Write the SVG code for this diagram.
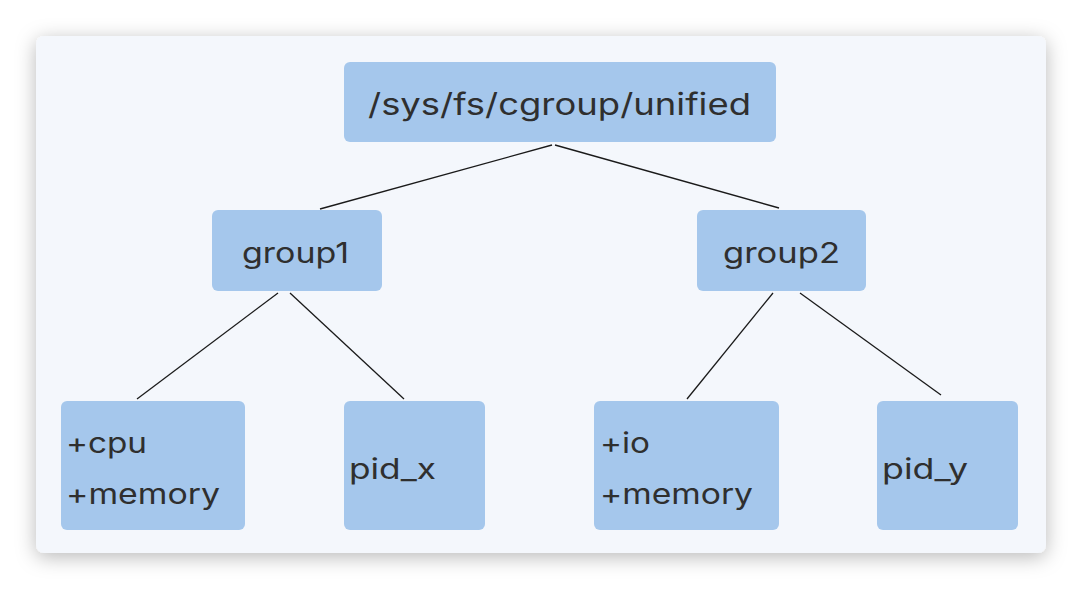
<svg xmlns="http://www.w3.org/2000/svg" width="1082" height="590" viewBox="0 0 1082 590">
<defs>
<filter id="sh" x="-10%" y="-10%" width="120%" height="125%">
<feDropShadow dx="0" dy="4" stdDeviation="10" flood-color="#000" flood-opacity="0.28"/>
</filter>
<style>
.n{fill:#a5c7ec;}
.t{font-family:Inter,"Liberation Sans",sans-serif;fill:#2f2f2f;}
.c{stroke:#1a1a1a;stroke-width:1.3;fill:none;}
</style>
</defs>
<rect x="0" y="0" width="1082" height="590" fill="#ffffff"/>
<rect x="36" y="36" width="1010" height="517" rx="8" fill="#f4f7fc" filter="url(#sh)"/>
<g id="connectors">
<line class="c" x1="552" y1="145" x2="320" y2="209"/>
<line class="c" x1="555" y1="145" x2="779" y2="208"/>
<line class="c" x1="278" y1="293" x2="137" y2="399"/>
<line class="c" x1="290" y1="293" x2="404" y2="399"/>
<line class="c" x1="773" y1="293" x2="687" y2="399"/>
<line class="c" x1="800" y1="293" x2="941" y2="395"/>
</g>
<g id="root">
<rect class="n" x="344" y="62" width="432" height="80" rx="6"/>
<text class="t" x="368" y="115" font-size="30" textLength="383" lengthAdjust="spacingAndGlyphs">/sys/fs/cgroup/unified</text>
</g>
<g id="group1">
<rect class="n" x="212" y="210" width="170" height="81" rx="6"/>
<text class="t" x="242" y="263" font-size="28" textLength="107" lengthAdjust="spacingAndGlyphs">group1</text>
</g>
<g id="group2">
<rect class="n" x="697" y="210" width="169" height="81" rx="6"/>
<text class="t" x="723" y="263" font-size="28" textLength="117" lengthAdjust="spacingAndGlyphs">group2</text>
</g>
<g id="leaf-cpu-memory">
<rect class="n" x="61" y="401" width="184" height="129" rx="6"/>
<text class="t" x="66" y="453" font-size="28" textLength="81" lengthAdjust="spacingAndGlyphs">+cpu</text>
<text class="t" x="66" y="504" font-size="28" textLength="154" lengthAdjust="spacingAndGlyphs">+memory</text>
</g>
<g id="pid_x">
<rect class="n" x="344" y="401" width="141" height="129" rx="6"/>
<text class="t" x="349" y="479" font-size="28" textLength="87" lengthAdjust="spacingAndGlyphs">pid_x</text>
</g>
<g id="leaf-io-memory">
<rect class="n" x="594" y="401" width="185" height="129" rx="6"/>
<text class="t" x="600" y="453" font-size="28" textLength="50" lengthAdjust="spacingAndGlyphs">+io</text>
<text class="t" x="600" y="504" font-size="28" textLength="153" lengthAdjust="spacingAndGlyphs">+memory</text>
</g>
<g id="pid_y">
<rect class="n" x="877" y="401" width="141" height="129" rx="6"/>
<text class="t" x="882" y="479" font-size="28" textLength="86" lengthAdjust="spacingAndGlyphs">pid_y</text>
</g>
</svg>
